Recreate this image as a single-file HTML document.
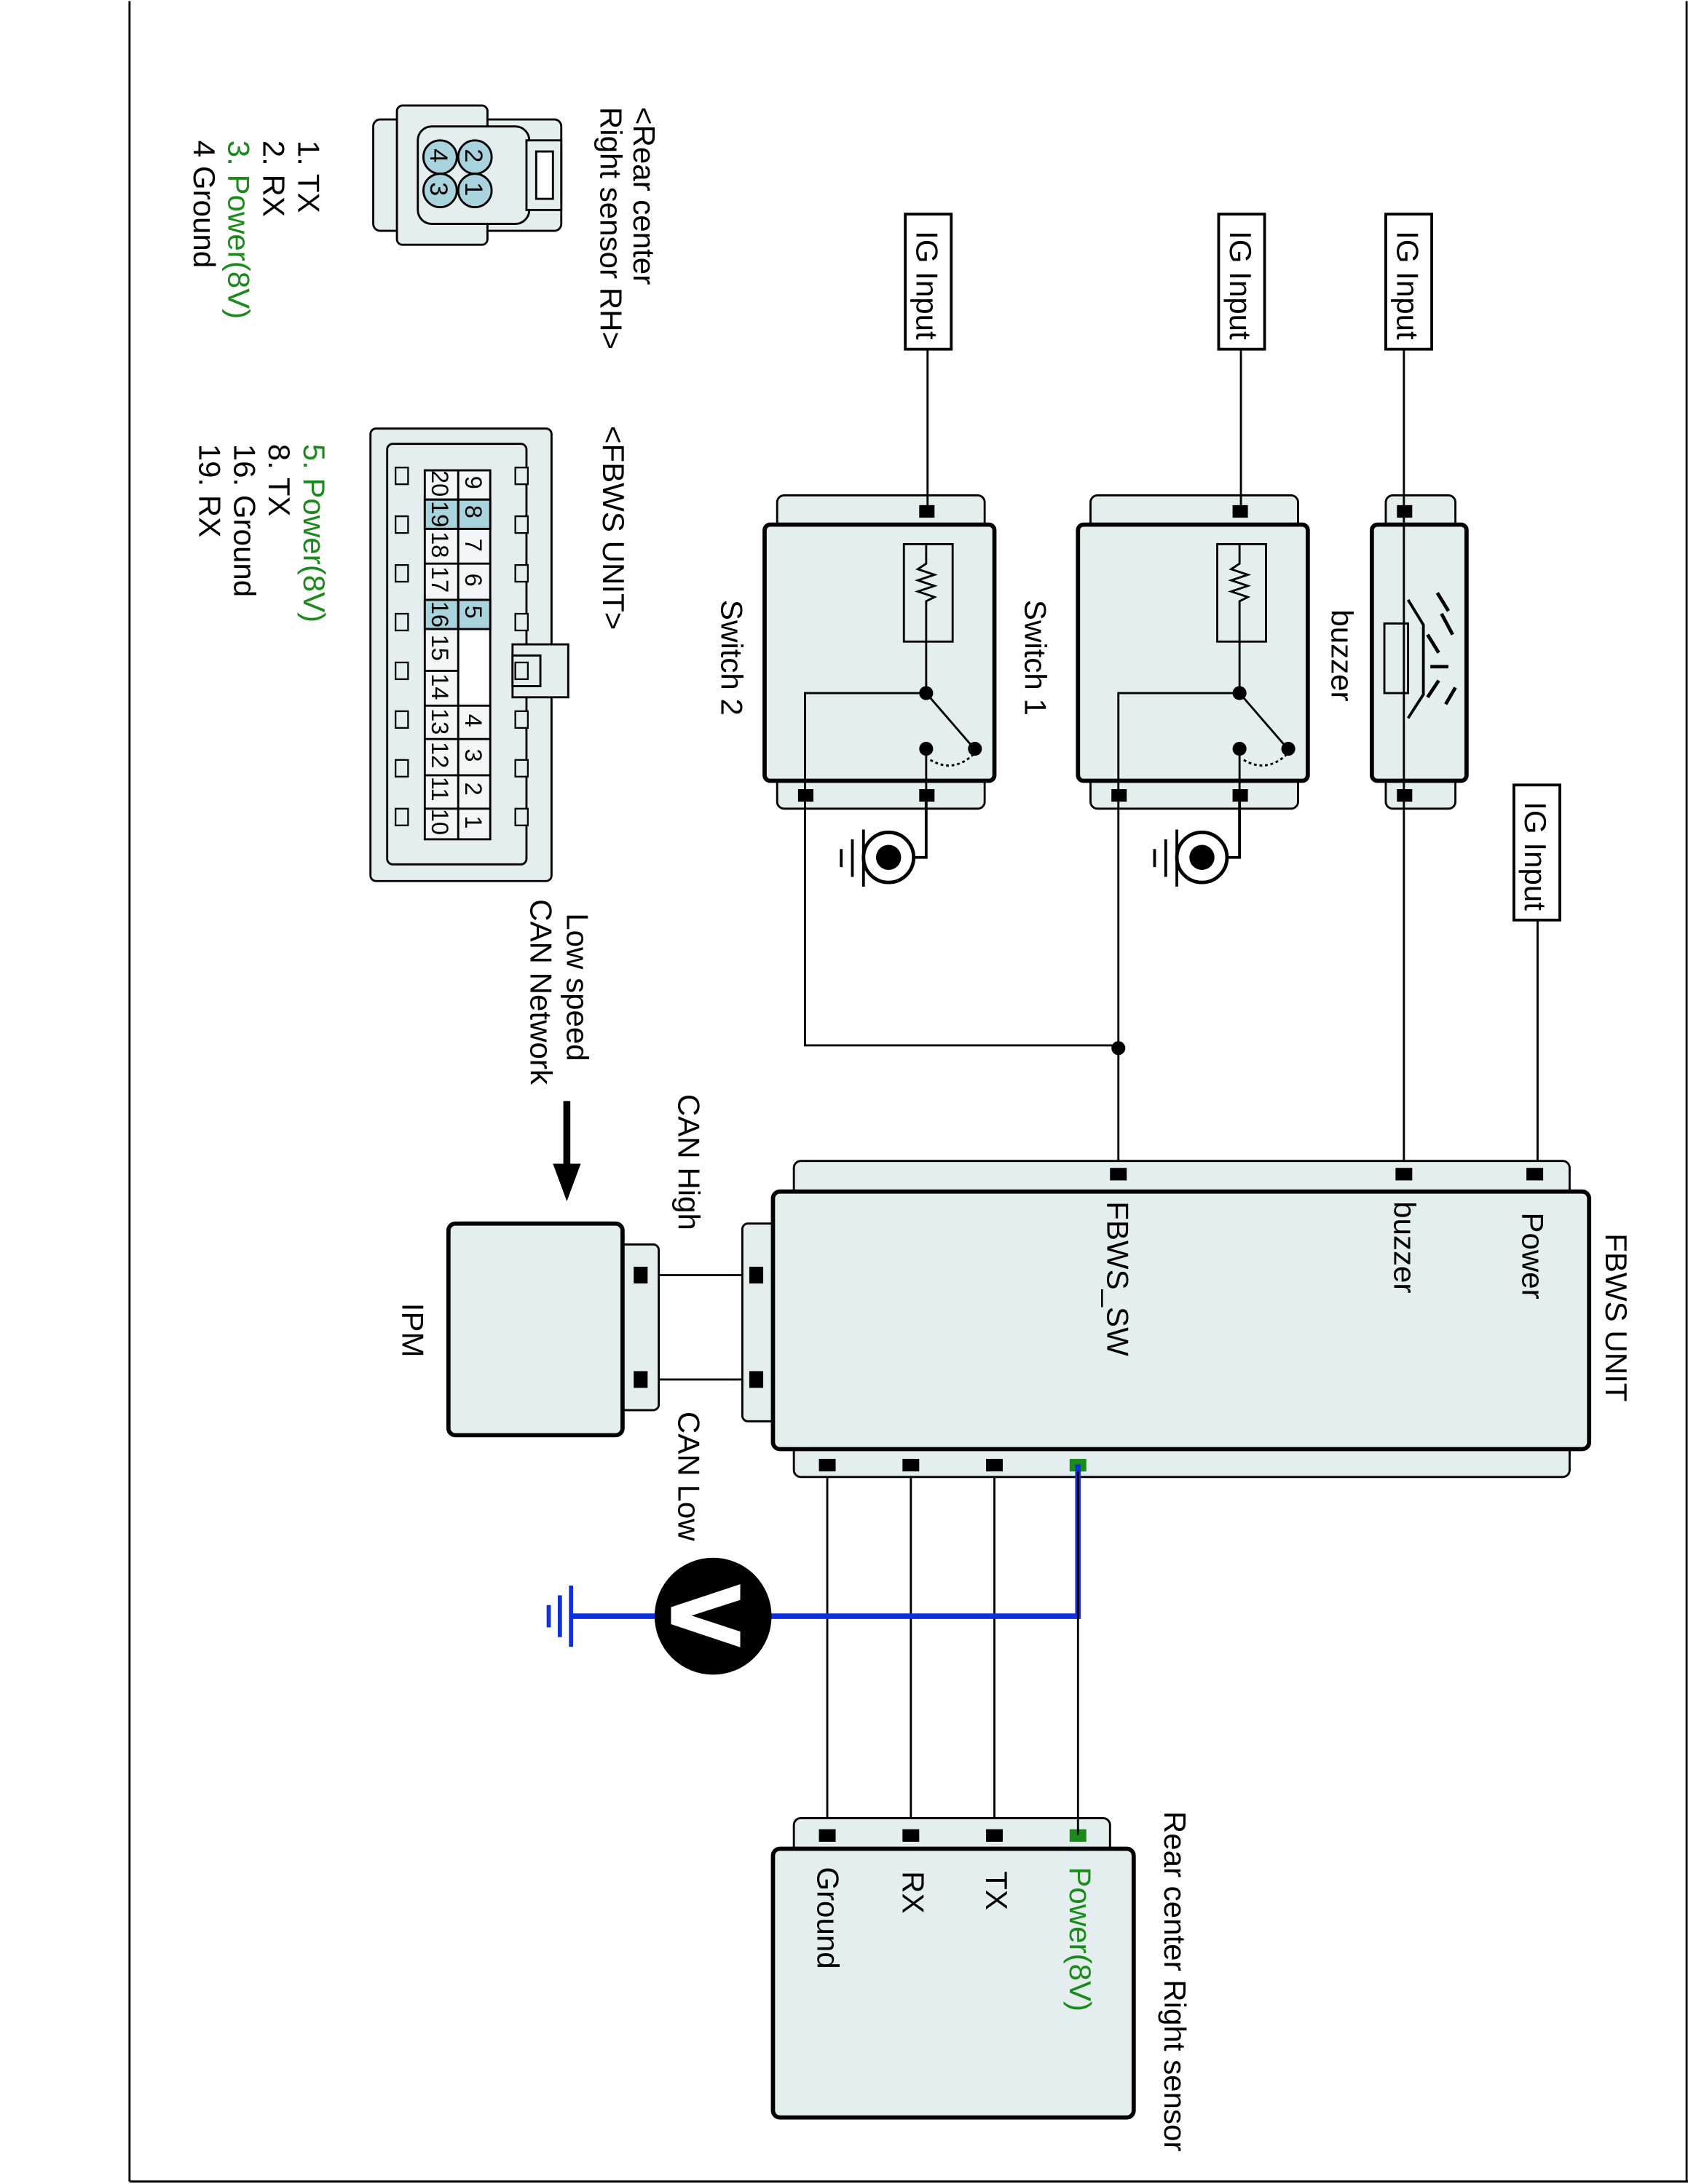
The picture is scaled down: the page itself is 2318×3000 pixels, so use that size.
<!DOCTYPE html>
<html><head><meta charset="utf-8"><style>html,body{margin:0;padding:0;background:#fff}svg{display:block}text{font-family:"Liberation Sans",Arial,sans-serif}</style></head>
<body>
<svg width="2318" height="3000" viewBox="0 0 1212 1567" xmlns="http://www.w3.org/2000/svg">
<rect x="0" y="0" width="1212" height="1567" fill="#fff"/>
<line x1="93" y1="0" x2="93" y2="1566" stroke="#000" stroke-width="1.5"/>
<line x1="93" y1="1566" x2="1212" y2="1566" stroke="#000" stroke-width="1.5"/>
<line x1="1211" y1="0" x2="1211" y2="1566" stroke="#000" stroke-width="1.5"/>

<g font-size="22" fill="#000">
<text transform="translate(455,76) rotate(90)">&lt;Rear center</text>
<text transform="translate(431,76) rotate(90)">Right sensor RH&gt;</text>
<text transform="translate(214,100) rotate(90)">1. TX</text>
<text transform="translate(189,100) rotate(90)">2. RX</text>
<text transform="translate(164,100) rotate(90)" fill="#1a8a1a">3. Power(8V)</text>
<text transform="translate(139,100) rotate(90)">4 Ground</text>
<text transform="translate(433,305) rotate(90)">&lt;FBWS UNIT&gt;</text>
<text transform="translate(218,318) rotate(90)" fill="#1a8a1a">5. Power(8V)</text>
<text transform="translate(193,318) rotate(90)">8. TX</text>
<text transform="translate(168,318) rotate(90)">16. Ground</text>
<text transform="translate(143,318) rotate(90)">19. RX</text>
</g>

<g stroke="#000" stroke-width="1.5" fill="#e4eeef">
<rect x="268" y="85" width="135" height="80" rx="5"/>
<rect x="285" y="75" width="65" height="100" rx="4"/>
<rect x="300" y="90" width="80" height="70" rx="10"/>
<rect x="378" y="100" width="25" height="50"/>
<rect x="385" y="108" width="12" height="34" fill="#fff"/>
<circle cx="341" cy="112" r="12" fill="#a9d3dd"/>
<circle cx="341" cy="136" r="12" fill="#a9d3dd"/>
<circle cx="316" cy="112" r="12" fill="#a9d3dd"/>
<circle cx="316" cy="136" r="12" fill="#a9d3dd"/>
</g>
<g font-size="18" fill="#000">
<text transform="translate(334,106) rotate(90)">2</text>
<text transform="translate(334,130) rotate(90)">1</text>
<text transform="translate(309,106) rotate(90)">4</text>
<text transform="translate(309,130) rotate(90)">3</text>
</g>

<g stroke="#000" stroke-width="1.5" fill="#e4eeef">
<rect x="266" y="307" width="130" height="325" rx="4"/>
<rect x="278" y="318" width="100" height="302" rx="4"/>
<rect x="368" y="462" width="40" height="38"/>
<rect x="368" y="470" width="20" height="22"/>
</g>
<g stroke="#000" stroke-width="1.2" fill="#e4eeef">
<g id="tabs">
<rect x="284" y="335" width="9" height="12"/><rect x="284" y="370" width="9" height="12"/><rect x="284" y="405" width="9" height="12"/><rect x="284" y="440" width="9" height="12"/><rect x="284" y="475" width="9" height="12"/><rect x="284" y="510" width="9" height="12"/><rect x="284" y="545" width="9" height="12"/><rect x="284" y="580" width="9" height="12"/>
</g>
<use href="#tabs" transform="translate(86,0)"/>
</g>
<g stroke="#000" stroke-width="1.5">
<rect x="305" y="337" width="47" height="265" fill="#f2f6f6"/>
<rect x="329" y="358" width="23" height="21" fill="#a9d3dd"/>
<rect x="329" y="430" width="23" height="21" fill="#a9d3dd"/>
<rect x="305" y="358" width="24" height="21" fill="#a9d3dd"/>
<rect x="305" y="430" width="24" height="21" fill="#a9d3dd"/>
<line x1="329" y1="337" x2="329" y2="602"/>
<path d="M305 358H352M305 379H352M305 404H352M305 430H352M305 451H329M305 481H329M305 506H352M305 530H352M305 556H352M305 580H352" fill="none"/>
<rect x="330" y="452" width="21" height="53" fill="#fff" stroke="none"/>
</g>
<g font-size="17" fill="#000">
<text transform="translate(334,341) rotate(90)">9</text>
<text transform="translate(334,362) rotate(90)">8</text>
<text transform="translate(334,386) rotate(90)">7</text>
<text transform="translate(334,411) rotate(90)">6</text>
<text transform="translate(334,434) rotate(90)">5</text>
<text transform="translate(334,512) rotate(90)">4</text>
<text transform="translate(334,537) rotate(90)">3</text>
<text transform="translate(334,561) rotate(90)">2</text>
<text transform="translate(334,585) rotate(90)">1</text>
<text transform="translate(310,337) rotate(90)">20</text>
<text transform="translate(310,359) rotate(90)">19</text>
<text transform="translate(310,381) rotate(90)">18</text>
<text transform="translate(310,406) rotate(90)">17</text>
<text transform="translate(310,431) rotate(90)">16</text>
<text transform="translate(310,455) rotate(90)">15</text>
<text transform="translate(310,483) rotate(90)">14</text>
<text transform="translate(310,508) rotate(90)">13</text>
<text transform="translate(310,532) rotate(90)">12</text>
<text transform="translate(310,557) rotate(90)">11</text>
<text transform="translate(310,580) rotate(90)">10</text>
</g>

<g stroke="#000" stroke-width="2" fill="#fff">
<rect x="650" y="153" width="33" height="97"/>
<rect x="875" y="153" width="33" height="97"/>
<rect x="995" y="153" width="33" height="97"/>
<rect x="1087" y="563" width="33" height="97"/>
</g>
<g font-size="22">
<text transform="translate(658,165) rotate(90)">IG Input</text>
<text transform="translate(883,165) rotate(90)">IG Input</text>
<text transform="translate(1003,165) rotate(90)">IG Input</text>
<text transform="translate(1095,575) rotate(90)">IG Input</text>
</g>

<g id="sw">
<rect x="558" y="355" width="149" height="225" rx="5" fill="#e4eeef" stroke="#000" stroke-width="1.5"/>
<rect x="549" y="376" width="165" height="184" rx="4" fill="#e4eeef" stroke="#000" stroke-width="3"/>
<rect x="649" y="390" width="35" height="70" fill="none" stroke="#000" stroke-width="1.5"/>
<path d="M665 390V404l-6 4 12 4-12 4 12 4-12 4 12 4-6 3V497" fill="none" stroke="#000" stroke-width="1.5"/>
<path d="M578 570V497H665M665 497L697 534M665 537V570" fill="none" stroke="#000" stroke-width="1.5"/>
<path d="M668 545Q685 555 700 540" fill="none" stroke="#000" stroke-width="1.5" stroke-dasharray="2 2"/>
<circle cx="665" cy="497" r="5"/><circle cx="700" cy="537" r="5"/><circle cx="665" cy="537" r="5"/>
<rect x="660" y="362" width="11" height="9"/><rect x="660" y="566" width="11" height="9"/><rect x="573" y="566" width="11" height="9"/>
<circle cx="638" cy="615" r="18" fill="#fff" stroke="#000" stroke-width="2.5"/>
<circle cx="638" cy="615" r="9"/>
<path d="M656 615H665V575M620 595V636M612 602V629M604 609V622" fill="none" stroke="#000" stroke-width="2"/>
</g>
<use href="#sw" transform="translate(225,0)"/>
<text transform="translate(518,430) rotate(90)" font-size="22">Switch 2</text>
<text transform="translate(736,430) rotate(90)" font-size="22">Switch 1</text>
<text transform="translate(956,437) rotate(90)" font-size="22">buzzer</text>

<rect x="995" y="355" width="50" height="225" rx="5" fill="#e4eeef" stroke="#000" stroke-width="1.5"/>
<rect x="985" y="376" width="68" height="184" rx="4" fill="#e4eeef" stroke="#000" stroke-width="3"/>
<rect x="994" y="447" width="17" height="50" fill="#e4eeef" stroke="#000" stroke-width="1.5"/>
<path d="M1011 430L1022 448V498L1011 515" fill="none" stroke="#000" stroke-width="2"/>
<path d="M1025 455L1033 468M1027 478H1040M1025 500L1033 488M1035 440L1043 455M1038 505L1045 493M1032 425L1040 438" fill="none" stroke="#000" stroke-width="2.5"/>
<rect x="1003" y="362" width="11" height="9"/><rect x="1003" y="566" width="11" height="9"/>

<g stroke="#000" stroke-width="1.5" fill="none">
<path d="M666 250V362M891 250V362M1008 250V842M1104 660V842"/>
<path d="M578 575V750H803M803 575V842"/>
<path d="M460 915H543M460 990H543"/>
<path d="M594 1051V1317M654 1051V1317M714 1051V1317"/>
</g>
<circle cx="803" cy="752" r="5"/>

<rect x="570" y="833" width="557" height="227" rx="5" fill="#e4eeef" stroke="#000" stroke-width="1.5"/>
<rect x="533" y="878" width="30" height="142" rx="4" fill="#e4eeef" stroke="#000" stroke-width="1.5"/>
<rect x="555" y="855" width="586" height="185" rx="5" fill="#e4eeef" stroke="#000" stroke-width="3"/>
<g fill="#000">
<rect x="797" y="838" width="12" height="9"/><rect x="1002" y="838" width="12" height="9"/><rect x="1096" y="838" width="12" height="9"/>
<rect x="588" y="1047" width="12" height="9"/><rect x="648" y="1047" width="12" height="9"/><rect x="708" y="1047" width="12" height="9"/>
<rect x="538" y="909" width="10" height="12"/><rect x="538" y="984" width="10" height="12"/>
</g>
<rect x="768" y="1047" width="12" height="9" fill="#1a8a1a"/>
<g font-size="22">
<text transform="translate(1153,885) rotate(90)">FBWS UNIT</text>
<text transform="translate(1093,870) rotate(90)">Power</text>
<text transform="translate(1001,862) rotate(90)">buzzer</text>
<text transform="translate(795,862) rotate(90)">FBWS_SW</text>
</g>

<rect x="440" y="893" width="33" height="119" rx="4" fill="#e4eeef" stroke="#000" stroke-width="1.5"/>
<rect x="322" y="878" width="125" height="152" rx="5" fill="#e4eeef" stroke="#000" stroke-width="3"/>
<rect x="455" y="909" width="10" height="12"/><rect x="455" y="984" width="10" height="12"/>
<g font-size="22">
<text transform="translate(289,935) rotate(90)">IPM</text>
<text transform="translate(487,785) rotate(90)">CAN High</text>
<text transform="translate(487,1013) rotate(90)">CAN Low</text>
<text transform="translate(407,655) rotate(90)">Low speed</text>
<text transform="translate(381,645) rotate(90)">CAN Network</text>
</g>
<path d="M407 790V838" stroke="#000" stroke-width="5"/>
<path d="M397 835L407 862L417 835Z"/>

<path d="M774 1051V1160H410" stroke="#1030e0" stroke-width="4" fill="none"/>
<path d="M410 1138V1182M402 1145V1175M394 1152V1168" stroke="#1030e0" stroke-width="3"/>
<circle cx="512" cy="1160" r="42"/>
<polygon points="531.5,1137 481.8,1153.5 481.8,1165.7 531.5,1182.3 531.5,1171 496.6,1159.6 531.5,1148.3" fill="#fff"/>

<rect x="570" y="1305" width="227" height="30" rx="5" fill="#e4eeef" stroke="#000" stroke-width="1.5"/>
<rect x="555" y="1327" width="259" height="193" rx="5" fill="#e4eeef" stroke="#000" stroke-width="3"/>
<rect x="588" y="1313" width="12" height="9"/><rect x="648" y="1313" width="12" height="9"/><rect x="708" y="1313" width="12" height="9"/>
<rect x="768" y="1313" width="12" height="9" fill="#1a8a1a"/>
<path d="M774 1056V1317" stroke="#000" stroke-width="1.5"/>
<g font-size="22">
<text transform="translate(836,1300) rotate(90)">Rear center Right sensor</text>
<text transform="translate(768,1340) rotate(90)" fill="#1a8a1a">Power(8V)</text>
<text transform="translate(708,1343) rotate(90)">TX</text>
<text transform="translate(648,1343) rotate(90)">RX</text>
<text transform="translate(587,1340) rotate(90)">Ground</text>
</g>
</svg>
</body></html>
